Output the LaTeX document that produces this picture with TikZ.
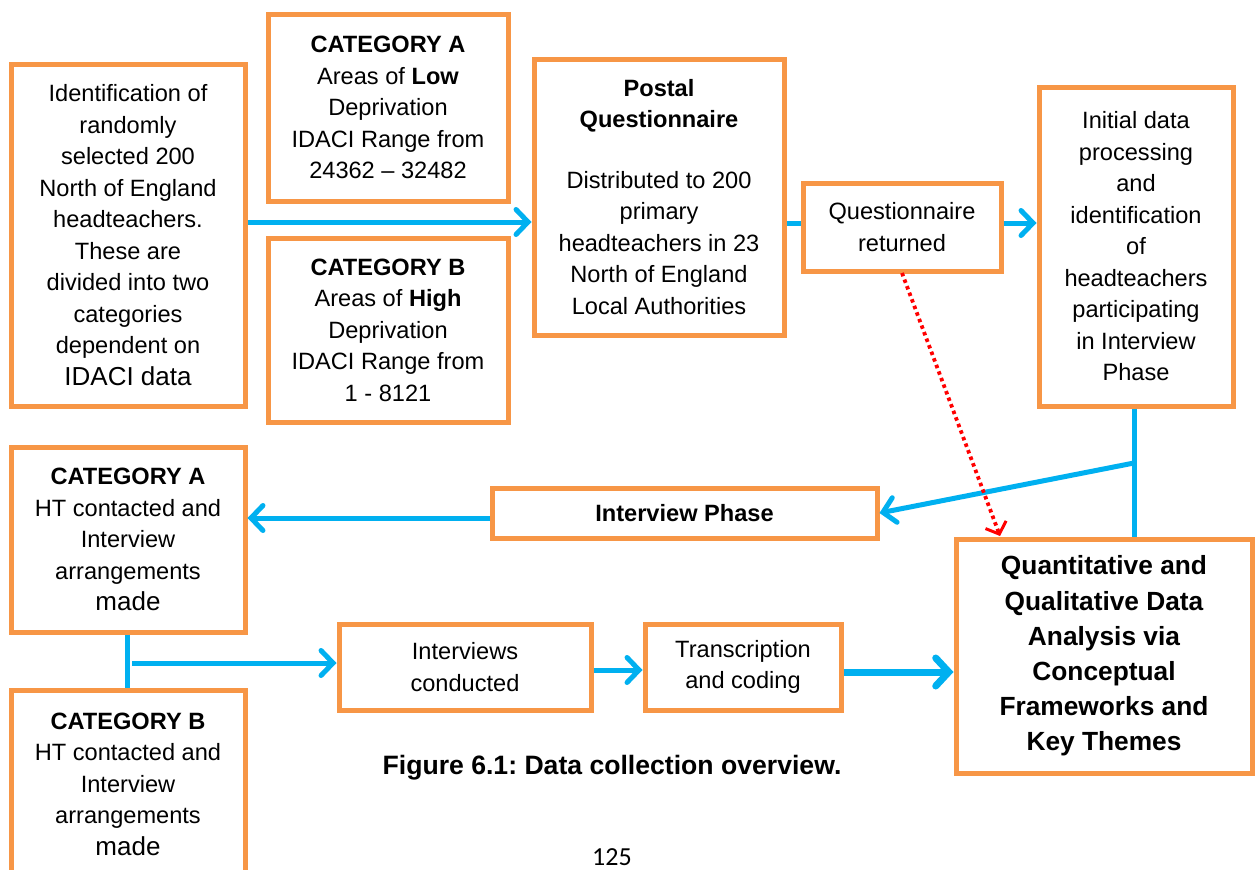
\documentclass[tikz,border=0pt]{standalone}
\usepackage{fontspec}
\setmainfont{Liberation Sans}
\newfontfamily\carl{Carlito}
\usetikzlibrary{arrows.meta}
\definecolor{boxorange}{HTML}{F79646}
\definecolor{arrblue}{HTML}{00B0F0}
\definecolor{dotred}{HTML}{FF0000}
\tikzset{
  bx/.style={draw=boxorange, line width=5pt, fill=white, align=center, inner sep=0pt},
  flow/.style={draw=arrblue, line width=5pt},
  flowarr/.style={flow, -{Straight Barb[length=12pt,width=25pt,line cap=round]}},
}
\newcommand{\bigtxt}[1]{{\fontsize{26}{31.5}\selectfont #1}}
\frenchspacing
\begin{document}
\begin{tikzpicture}[x=1pt,y=-1pt,font=\fontsize{23.6}{31.5}\selectfont]
\clip (0,0) rectangle (1259,870);
\fill[white] (0,0) rectangle (1259,870);

% boxes
\node[bx, minimum width=234, minimum height=342] (id) at (128,235)
  {Identification of\\randomly\\selected 200\\North of England\\headteachers.\\These are\\divided into two\\categories\\dependent on\\\bigtxt{IDACI data}};
\node[bx, minimum width=240, minimum height=187] (ca) at (388,107.5)
  {\textbf{CATEGORY A}\\Areas of \textbf{Low}\\Deprivation\\IDACI Range from\\24362 – 32482};
\node[bx, minimum width=240, minimum height=184] (cb) at (388,330)
  {\textbf{CATEGORY B}\\Areas of \textbf{High}\\Deprivation\\IDACI Range from\\1 - 8121};
\node[bx, minimum width=250, minimum height=276] (pq) at (659,197)
  {\textbf{Postal}\\\textbf{Questionnaire}\\[29pt]Distributed to 200\\primary\\headteachers in 23\\North of England\\Local Authorities};
\node[bx, minimum width=198, minimum height=88] (qr) at (902,227)
  {Questionnaire\\returned};
\node[bx, minimum width=194, minimum height=319] (init) at (1136,246.5)
  {Initial data\\processing\\and\\identification\\of\\headteachers\\participating\\in Interview\\Phase};
\node[bx, minimum width=234, minimum height=185] (ca2) at (128,539.5)
  {\textbf{CATEGORY A}\\HT contacted and\\Interview\\arrangements\\\bigtxt{made}};
\node[bx, minimum width=234, minimum height=188] (cb2) at (128,784)
  {\textbf{CATEGORY B}\\HT contacted and\\Interview\\arrangements\\\bigtxt{made}};
\node[bx, minimum width=385, minimum height=50] (ip) at (684.5,513)
  {\textbf{Interview Phase}};
\node[bx, minimum width=296, minimum height=234, font=\fontsize{26.3}{35.2}\selectfont\bfseries] (quant) at (1104,656)
  {Quantitative and\\Qualitative Data\\Analysis via\\Conceptual\\Frameworks and\\Key Themes};
\node[bx, minimum width=252, minimum height=86] (ic) at (465,667)
  {Interviews\\conducted};
\node[bx, minimum width=196, minimum height=86] (tc) at (743,667)
  {Transcription\\and coding};

% caption and page number
\node[font=\fontsize{26.6}{30}\selectfont\bfseries] (cap) at (612,768) {Figure 6.1: Data collection overview.};
\node[font=\fontsize{26}{30}\selectfont\carl] (pg) at (612,857) {125};

% coordinates
\coordinate (a1) at (247.5,222);
\coordinate (j1) at (1134,463);
\coordinate (j2) at (132,663);
\coordinate (qt) at (1000,536);

% connectors
\draw[flowarr] (a1) -- (a1 -| pq.west);
\draw[flow] (pq.east |- 0,223) -- (qr.west |- 0,223);
\draw[flowarr] (qr.east |- 0,223) -- (init.west |- 0,223);
\draw[flow] (init.south -| j1) -- (quant.north -| j1);
\draw[flowarr] (j1) -- (ip.east);
\draw[flowarr] (ip.west |- 0,518) -- (ca2.east |- 0,518);
\draw[flow] (ca2.south -| 127,0) -- (cb2.north -| 127,0);
\draw[flowarr] (j2) -- (j2 -| ic.west);
\draw[flowarr] (ic.east |- 0,670) -- (tc.west |- 0,670);
\draw[draw=arrblue, line width=7pt, -{Straight Barb[length=13pt,width=28pt,line cap=round]}] (tc.east |- 0,672) -- (quant.west |- 0,672);
\draw[draw=dotred, line width=3.8pt, dash pattern=on 3.5pt off 3.5pt, -{Straight Barb[length=10pt,width=22pt,line width=3pt]}] (qr.south |- 0,273) -- (qt);
\end{tikzpicture}
\end{document}
